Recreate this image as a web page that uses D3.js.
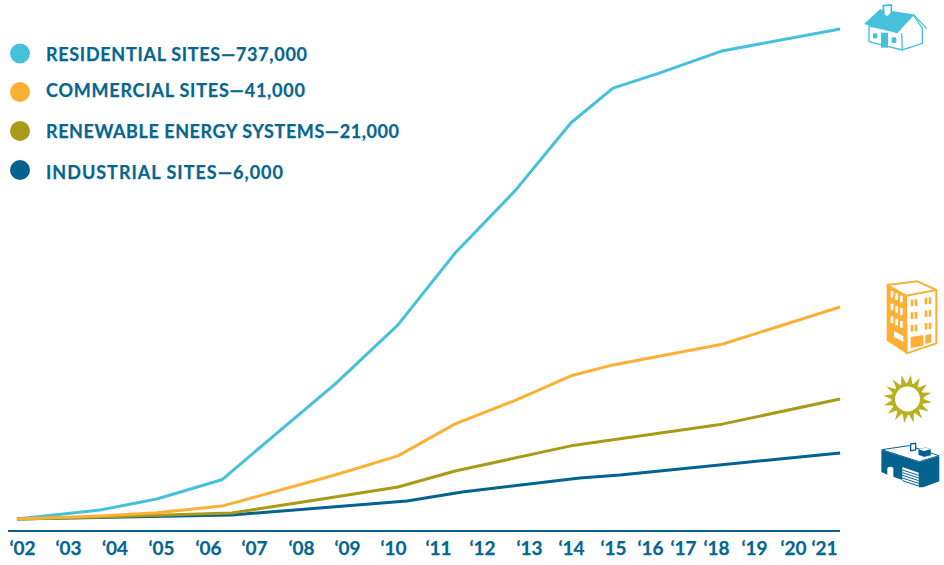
<!DOCTYPE html>
<html>
<head>
<meta charset="utf-8">
<script src="https://cdn.jsdelivr.net/npm/d3@7/dist/d3.min.js"></script>
<style>
  html, body { margin: 0; padding: 0; background: #fff; }
  svg { display: block; }
  text { font-family: Lato, sans-serif; font-weight: 700; fill: #07668f; stroke: #07668f; stroke-width: 0.25; }
</style>
</head>
<body>
<svg width="944" height="565"></svg>
<script>
"use strict";

// tick years, the axis in the original is not evenly spaced
const tickYears = d3.range(2002, 2022);
const tickCenters = [22, 68, 114.5, 161, 208, 254, 301, 347, 393, 438, 482, 529, 571, 613, 650, 683, 716, 754, 793, 824];

// values in thousands of sites, each series runs on its own vertical scale
const residentialYears = [2001.89, 2003.69, 2004.91, 2006.3, 2008.74, 2010.11, 2011.39, 2012.72, 2014, 2015, 2016.3, 2018.16, 2021.52];
const residentialValues = [0, 13.5, 30, 59, 203, 292, 400, 495, 596, 648, 671, 704, 737];

const commercialYears = [2001.89, 2003.69, 2004.91, 2006.3, 2008.74, 2010.11, 2011.39, 2012.72, 2014, 2015, 2018.16, 2021.52];
const commercialValues = [0, 0.6, 1.2, 2.5, 8.5, 12.2, 18.4, 23, 27.7, 29.8, 33.8, 41];

const renewableYears = [2001.89, 2003.69, 2006.52, 2008.74, 2010.11, 2011.39, 2014, 2018.16, 2021.52];
const renewableValues = [0, 0.35, 1.05, 3.85, 5.6, 8.4, 12.8, 16.6, 21];

const industrialYears = [2001.89, 2006.52, 2010.31, 2011.55, 2014.21, 2015.19, 2021.52];
const industrialValues = [0, 0.36, 1.64, 2.45, 3.73, 4, 6];

const legendLabels = ["RESIDENTIAL SITES—737,000", "COMMERCIAL SITES—41,000", "RENEWABLE ENERGY SYSTEMS—21,000", "INDUSTRIAL SITES—6,000"];
const totals = [737, 41, 21, 6];

const CYAN = "#45c1dc", ORANGE = "#fdb035", OLIVE = "#a99a17", BLUE = "#04628f";
const colors = [CYAN, ORANGE, OLIVE, BLUE];
const legendCircleY = [53.5, 92, 131, 170];
const legendTextY = [60.5, 96.5, 137.5, 178.5];
const legendTextWidth = [261, 259, 353, 237];
const lineTops = [29, 307, 399, 453];
const baseY = 519;

const svg = d3.select("svg");
const x = d3.scaleLinear().domain(tickYears).range(tickCenters);

const series = [
    {years: residentialYears, values: residentialValues},
    {years: commercialYears, values: commercialValues},
    {years: renewableYears, values: renewableValues},
    {years: industrialYears, values: industrialValues}
];

// cyan at the back, orange on top at the start of the lines
[0, 3, 2, 1].forEach(i => {
    const y = d3.scaleLinear().domain([0, totals[i]]).range([baseY, lineTops[i]]);
    const line = d3.line().x(d => x(d[0])).y(d => y(d[1]));
    svg.append("path")
        .datum(d3.zip(series[i].years, series[i].values))
        .attr("d", line)
        .attr("fill", "none")
        .attr("stroke", colors[i])
        .attr("stroke-width", 3)
        .attr("stroke-linejoin", "round");
});

// axis
svg.append("line")
    .attr("x1", 8).attr("x2", 840)
    .attr("y1", 531).attr("y2", 531)
    .attr("stroke", BLUE)
    .attr("stroke-width", 2);

const xAxis = svg.append("g")
    .attr("transform", "translate(0, 531)")
    .call(d3.axisBottom(x)
        .tickValues(tickYears)
        .tickSize(0)
        .tickPadding(11)
        .tickFormat(d => "‘" + String(d).slice(2)));
xAxis.select(".domain").remove();
xAxis.selectAll("text")
    .style("font-family", "Lato, sans-serif")
    .style("font-size", "19px")
    .style("font-weight", 700)
    .attr("fill", "#07668f");

// legend
legendLabels.forEach((label, i) => {
    svg.append("circle")
        .attr("cx", 20).attr("cy", legendCircleY[i]).attr("r", 10)
        .attr("fill", colors[i]);
    svg.append("text")
        .attr("x", 46).attr("y", legendTextY[i])
        .attr("font-size", 18)
        .attr("textLength", legendTextWidth[i])
        .attr("lengthAdjust", "spacing")
        .text(label);
});

// icons, traced in the 3x coordinates of the picture
const house = svg.append("g").attr("transform", "translate(854, 0) scale(0.3333)");
house.append("path").attr("fill", "#fff").attr("stroke", CYAN).attr("stroke-width", 4)
    .attr("d", "M45,78 L45,125 L145,150 L205,130 L205,85 L178,45 L130,95 Z");
house.append("path").attr("fill", "none").attr("stroke", CYAN).attr("stroke-width", 4)
    .attr("d", "M178,43 L218,86 M145,150 L143,100");
house.append("path").attr("fill", CYAN)
    .attr("d", "M30,72 L78,28 L178,43 L130,100 Z");
house.append("path").attr("fill", "#fff").attr("stroke", CYAN).attr("stroke-width", 5)
    .attr("d", "M88,17 L112,15 L112,40 L100,52 L90,46 Z");
house.append("rect").attr("x", 57).attr("y", 100).attr("width", 13).attr("height", 15).attr("fill", CYAN);
house.append("rect").attr("x", 113).attr("y", 112).attr("width", 14).attr("height", 17).attr("fill", CYAN);
house.append("rect").attr("x", 81).attr("y", 98).attr("width", 21).attr("height", 45).attr("fill", CYAN);

const building = svg.append("g").attr("transform", "translate(874, 275) scale(0.3333)");
building.append("path").attr("fill", ORANGE).attr("d", "M38,28 L38,197 L100,238 L98,60 Z");
building.append("path").attr("fill", "#fff").attr("stroke", ORANGE).attr("stroke-width", 6)
    .attr("stroke-linejoin", "round")
    .attr("d", "M40,30 L130,19 L187,45 L187,205 L98,235 L96,62 Z M96,62 L187,45");
[[50, 48], [64, 55], [78, 62]].forEach(c => {
    [0, 38, 76].forEach(dy => {
        building.append("rect").attr("x", c[0]).attr("y", c[1] + dy).attr("width", 8).attr("height", 20).attr("fill", "#fff");
    });
});
building.append("path").attr("fill", "#fff").attr("d", "M60,168 L88,184 L88,200 L60,186 Z");
[[110, 74], [152, 68]].forEach(c => {
    [0, 38, 76].forEach(dy => {
        building.append("rect").attr("x", c[0]).attr("y", c[1] + dy).attr("width", 8).attr("height", 20).attr("fill", ORANGE);
        building.append("rect").attr("x", c[0] + 12).attr("y", c[1] - 1 + dy).attr("width", 8).attr("height", 20).attr("fill", ORANGE);
    });
});
building.append("path").attr("fill", ORANGE).attr("d", "M110,186 L148,180 L148,212 L110,219 Z");
building.append("path").attr("fill", ORANGE).attr("d", "M154,180 L172,177 L172,202 L154,207 Z");

// sun, thin spikes round a ring
const sun = svg.append("g").attr("transform", "translate(907.5, 399)");
d3.range(16).forEach(i => {
    sun.append("path")
        .attr("d", "M-3,-14 L0,-24.5 L3,-14 Z")
        .attr("transform", `rotate(${i * 22.5 + 8})`)
        .attr("fill", "#b8b21c");
});
sun.append("circle").attr("r", 16).attr("fill", "#b8b21c");
sun.append("circle").attr("r", 12.5).attr("fill", "#fff");

const factory = svg.append("g").attr("transform", "translate(874, 368) scale(0.3333)");
factory.append("path").attr("fill", BLUE)
    .attr("d", "M22,245 L22,312 L40,320 L40,300 Q48,292 58,300 L58,326 L85,336 L85,297 L134,314 L134,358 L148,358 L196,340 L196,264 L136,282 Z");
factory.append("path").attr("fill", "#fff").attr("stroke", BLUE).attr("stroke-width", 3)
    .attr("d", "M24,245 L105,233 L195,263 L136,281 Z");
factory.append("path").attr("fill", "#fff").attr("stroke", BLUE).attr("stroke-width", 4)
    .attr("d", "M110,228 L125,226 L125,246 L110,248 Z");
factory.append("path").attr("fill", BLUE).attr("stroke", BLUE).attr("stroke-width", 1)
    .attr("d", "M134,244 L155,239 L170,244 L170,262 L150,266 L134,260 Z");
factory.append("path").attr("fill", "#fff").attr("d", "M134,244 L155,239 L170,244 L150,249 Z");
[0, 1, 2, 3, 4].forEach(i => {
    factory.append("path").attr("fill", "none").attr("stroke", BLUE).attr("stroke-width", 3)
        .attr("d", `M85,${306 + i * 8} L134,${322 + i * 8}`);
});
</script>
</body>
</html>
